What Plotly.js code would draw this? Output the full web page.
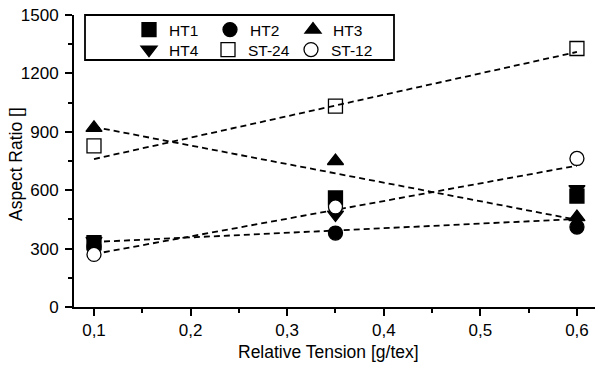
<!DOCTYPE html>
<html>
<head>
<meta charset="utf-8">
<script src="https://cdn.plot.ly/plotly-3.0.1.min.js"></script>
<style>html,body{margin:0;padding:0;background:#fff;}#chart{width:595px;height:372px;}</style>
</head>
<body>
<div id="chart"></div>
<script>
// Relative tension values (x)
const tension = [0.1, 0.35, 0.6];
// Aspect ratio per sample
const HT1 = [330, 560, 570];
const HT2 = [310, 380, 411];
const HT3 = [920, 750, 462];
const HT4 = [340, 475, 606];
const ST24 = [828, 1032, 1328];
const ST12 = [270, 514, 763];
// Dashed trend lines (end points)
const lineX = [0.1, 0.6];
const trendST24 = [760, 1310];
const trendHT3 = [925, 448];
const trendFlat = [334, 452];
const trendST12 = [272, 726];
const xTicks = [0.1, 0.2, 0.3, 0.4, 0.5, 0.6];
const yTicks = [0, 300, 600, 900, 1200, 1500];
const gridVals = [300, 600, 900, 1200];

const FONT = 'Liberation Sans, Arial, sans-serif';
const dashLine = {color: '#000', width: 1.8, dash: '6px,4px'};

function trend(y) {
  return {x: lineX, y: y, mode: 'lines', line: dashLine, showlegend: false, hoverinfo: 'skip'};
}
function series(name, y, symbol, color, legend, lw) {
  return {
    x: tension, y: y, name: name, mode: 'markers', legend: legend, legendwidth: lw,
    marker: {symbol: symbol, size: 14, color: color, line: {color: '#000', width: 1.3}}
  };
}

const data = [
  trend(trendST24), trend(trendHT3), trend(trendFlat), trend(trendST12),
  series('HT1', HT1, 'square', '#000', 'legend', 36),
  series('HT2', HT2, 'circle', '#000', 'legend', 38),
  series('HT3', HT3, 'triangle-up', '#000', 'legend', 38),
  series('HT4', HT4, 'triangle-down', '#000', 'legend2', 34),
  series('ST-24', ST24, 'square-open', '#000', 'legend2', 38),
  series('ST-12', ST12, 'circle', '#fff', 'legend2', 45)
];

const L = 74, R = 0, T = 15, B = 65;
const W = 595 - L - R, H = 372 - T - B;
const px = v => (v - L) / W;
const py = v => (372 - B - v) / H;

const layout = {
  width: 595, height: 372,
  margin: {l: L, r: R, t: T, b: B},
  paper_bgcolor: '#fff', plot_bgcolor: '#fff',
  font: {family: FONT, size: 17, color: '#000'},
  separators: ', ',
  showlegend: true,
  xaxis: {
    range: [0.0793, 0.6187], tickvals: xTicks, tickformat: '.1f',
    ticks: 'outside', ticklen: 7, tickwidth: 2, tickcolor: '#000', ticklabelstandoff: 0,
    minor: {dtick: 0.05, tick0: 0.05, ticks: 'outside', ticklen: 4, tickwidth: 2, tickcolor: '#000', showgrid: false},
    showline: true, linewidth: 2, linecolor: '#000', showgrid: false, zeroline: false,
    tickfont: {family: FONT, size: 17}
  },
  yaxis: {
    range: [0, 1500], tickvals: yTicks,
    ticks: 'outside', ticklen: 7, tickwidth: 2, tickcolor: '#000', ticklabelstandoff: 3,
    minor: {dtick: 150, tick0: 0, ticks: 'outside', ticklen: 4, tickwidth: 2, tickcolor: '#000', showgrid: false},
    showline: true, linewidth: 2, linecolor: '#000', showgrid: false, zeroline: false,
    tickfont: {family: FONT, size: 17}
  },
  yaxis2: {
    overlaying: 'y', anchor: 'x', range: [0, 1500], tickvals: gridVals,
    showticklabels: false, ticks: '', showline: false, zeroline: false,
    showgrid: true, gridcolor: '#b8b8b8', gridwidth: 1, griddash: 'dot', layer: 'below traces'
  },
  legend: {
    orientation: 'h', x: px(129), xanchor: 'left', y: py(30), yanchor: 'middle',
    bgcolor: 'rgba(0,0,0,0)', borderwidth: 0, font: {family: FONT, size: 15.5}, itemclick: false
  },
  legend2: {
    orientation: 'h', x: px(129), xanchor: 'left', y: py(50), yanchor: 'middle',
    bgcolor: 'rgba(0,0,0,0)', borderwidth: 0, font: {family: FONT, size: 15.5}, itemclick: false
  },
  shapes: [{
    type: 'rect', xref: 'paper', yref: 'paper',
    x0: px(85), x1: px(394), y0: py(60), y1: py(15),
    line: {color: '#000', width: 1.8}, layer: 'above'
  }],
  annotations: [
    {text: 'Aspect Ratio []', xref: 'paper', yref: 'paper', x: px(16), y: py(164),
     xanchor: 'center', yanchor: 'middle', textangle: -90, showarrow: false, font: {family: FONT, size: 17.5}},
    {text: 'Relative Tension [g/tex]', xref: 'paper', yref: 'paper', x: px(328), y: py(352),
     xanchor: 'center', yanchor: 'middle', showarrow: false, font: {family: FONT, size: 17.5}}
  ]
};

Plotly.newPlot('chart', data, layout, {displayModeBar: false, staticPlot: true});
</script>
</body>
</html>
